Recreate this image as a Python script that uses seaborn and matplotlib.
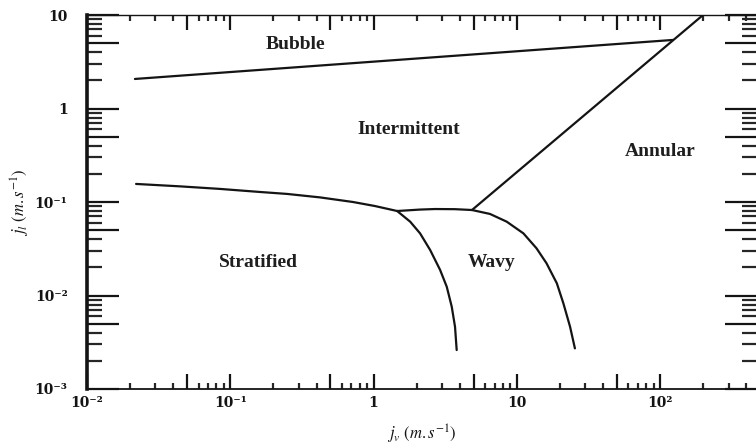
import numpy as np
import pandas as pd
import matplotlib
matplotlib.use("Agg")
import matplotlib.pyplot as plt
import seaborn as sns
from matplotlib.ticker import FixedLocator, FuncFormatter, NullFormatter

sns.set_theme(style="white")
plt.rcParams["mathtext.fontset"] = "stix"

# flow-pattern boundaries (jv, jl in m/s)
bubble_jv = [0.0216, 122.7]
bubble_jl = [2.07, 5.41]

annular_jv = [4.86, 199.0]
annular_jl = [0.0821, 10.0]

strat_top_jv = [0.0220, 0.0446, 0.0848, 0.161, 0.249, 0.423, 0.718, 1.02, 1.46]
strat_top_jl = [0.156, 0.147, 0.138, 0.128, 0.122, 0.112, 0.100, 0.0906, 0.0801]

wavy_top_jv = [1.46, 2.11, 2.68, 3.70, 4.86]
wavy_top_jl = [0.0801, 0.0830, 0.0841, 0.0838, 0.0821]

strat_wavy_jv = [1.46, 1.80, 2.11, 2.48, 2.91, 3.24, 3.51, 3.70, 3.80]
strat_wavy_jl = [0.0801, 0.0616, 0.0462, 0.0307, 0.0188, 0.0124, 0.00759, 0.00463, 0.00261]

wavy_ann_jv = [4.86, 6.49, 8.49, 11.1, 13.7, 16.1, 19.0, 21.1, 23.5, 25.4]
wavy_ann_jl = [0.0821, 0.0745, 0.0616, 0.0462, 0.0320, 0.0221, 0.0135, 0.00825, 0.00463, 0.00272]

regions = ["Bubble", "Intermittent", "Annular", "Stratified", "Wavy"]
region_jv = [0.283, 1.77, 99.7, 0.156, 6.70]
region_jl = [4.78, 0.589, 0.351, 0.0223, 0.0228]

decades = [1e-3, 1e-2, 1e-1, 1, 10, 100, 1000]
tick_text = ["10⁻³", "10⁻²", "10⁻¹", "1", "10", "10²", "10³"]

parts = []
for name, xs, ys in [("bubble", bubble_jv, bubble_jl),
                     ("annular", annular_jv, annular_jl),
                     ("strat_top", strat_top_jv, strat_top_jl),
                     ("wavy_top", wavy_top_jv, wavy_top_jl),
                     ("strat_wavy", strat_wavy_jv, strat_wavy_jl),
                     ("wavy_ann", wavy_ann_jv, wavy_ann_jl)]:
    parts.append(pd.DataFrame({"jv": xs, "jl": ys, "boundary": name}))
df = pd.concat(parts, ignore_index=True)

fig = plt.figure(figsize=(7.56, 4.45), dpi=100)
ax = fig.add_axes([87 / 756, 56 / 445, 670 / 756, 374 / 445])

sns.lineplot(data=df, x="jv", y="jl", units="boundary", estimator=None,
             sort=False, color="#141414", linewidth=1.6, ax=ax, legend=False)

ax.set_xscale("log")
ax.set_yscale("log")
ax.set_xlim(1e-2, 10 ** 2.6755)
ax.set_ylim(1e-3, 10)


def label_decade(v, pos):
    for d, t in zip(decades, tick_text):
        if abs(v / d - 1) < 1e-6:
            return t
    return ""


major = sorted(decades + [5 * d for d in decades])
minor = [m * d for d in decades for m in (2, 3, 4, 6, 7, 8, 9)]
for axis in (ax.xaxis, ax.yaxis):
    axis.set_major_locator(FixedLocator(major))
    axis.set_minor_locator(FixedLocator(minor))
    axis.set_major_formatter(FuncFormatter(label_decade))
    axis.set_minor_formatter(NullFormatter())

ax.tick_params(axis="x", which="major", direction="in", length=11, width=1.6,
               top=True, bottom=True, pad=5, colors="#141414")
ax.tick_params(axis="x", which="minor", direction="in", length=4, width=1.6,
               top=True, bottom=True)
ax.tick_params(axis="y", which="major", direction="in", length=23, width=1.6,
               left=True, right=True, pad=14, colors="#141414")
ax.tick_params(axis="y", which="minor", direction="in", length=11, width=1.6,
               left=True, right=True)
for lab in ax.get_xticklabels() + ax.get_yticklabels():
    lab.set_fontfamily("DejaVu Serif")
    lab.set_fontweight("bold")
    lab.set_fontsize(10)

ax.spines["left"].set_linewidth(2.6)
ax.spines["bottom"].set_linewidth(1.3)
ax.spines["top"].set_linewidth(1.0)
ax.spines["right"].set_linewidth(1.3)
for s in ax.spines.values():
    s.set_color("#141414")

ax.set_xlabel(r"$j_v\ (m.s^{-1})$", fontsize=12, color="#141414", labelpad=9)
ax.set_ylabel(r"$j_l\ (m.s^{-1})$", fontsize=12, color="#141414", labelpad=2)

for name, x, y in zip(regions, region_jv, region_jl):
    ax.text(x, y, name, ha="center", va="center", fontsize=14,
            fontweight="bold", family="Liberation Serif", color="#1e1e1e")

fig.savefig("out.png", dpi=100)
